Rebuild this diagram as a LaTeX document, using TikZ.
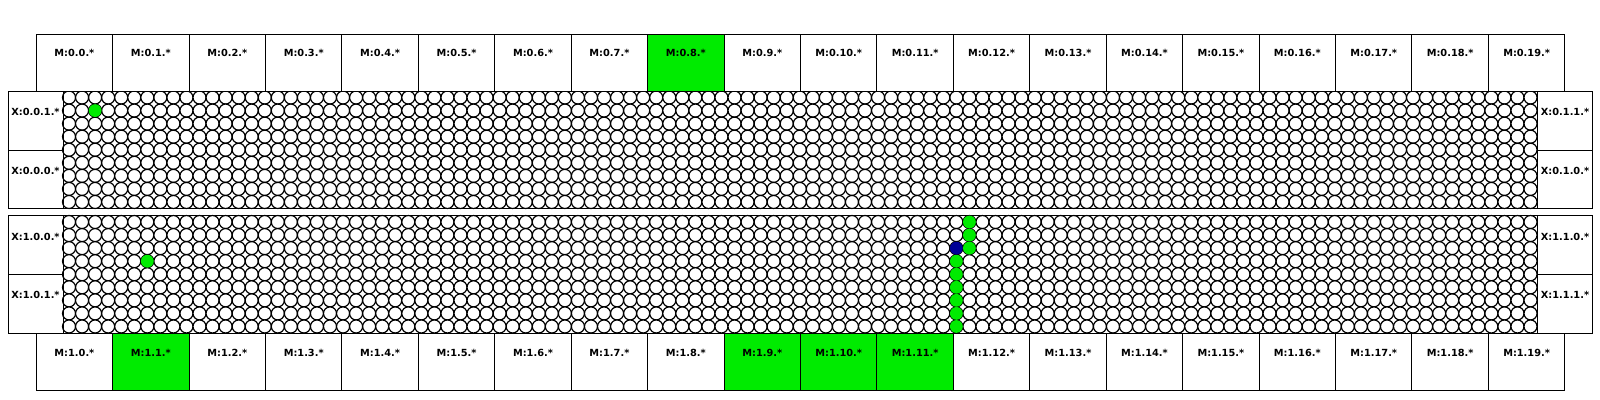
\documentclass[tikz,border=0pt]{standalone}
\usepackage{fontspec}
\setmainfont{DejaVu Sans}
\usetikzlibrary{positioning}
\definecolor{hitgreen}{RGB}{0,235,0}
\definecolor{hitblue}{RGB}{0,0,150}

\begin{document}
\begin{tikzpicture}[x=0.5pt,y=-0.5pt,
            mbox/.style={draw,line width=0.5pt,rectangle,anchor=north west,inner sep=0pt,minimum width=38.215pt,minimum height=28.35pt},
            xbox/.style={draw,line width=0.5pt,rectangle,anchor=north west,inner sep=0pt,minimum width=27.5pt,minimum height=29.375pt},
            frame/.style={draw,line width=0.5pt,rectangle,anchor=north west,inner sep=0pt,minimum width=737.25pt,minimum height=58.75pt},
            lbl/.style={font=\bfseries\fontsize{4.9}{5}\selectfont,inner sep=0pt},
            cell/.style={draw,line width=0.6pt,fill=white},
            hit/.style={fill=hitgreen},
        ]

        \def\cw{13.049}
        \def\ch{13.056}
        \useasboundingbox (0,0) rectangle (1600,400);

        % grid frames
        \node[frame] (grid0) at (62.5,91) {};
        \node[frame] (grid1) at (62.5,215.5) {};

        % cells
        \foreach \y in {91,215.5} {
            \foreach \i in {0,...,112} {
                \foreach \j in {0,...,8} {
                    \draw[cell] (62.5+\cw*\i+\cw/2, \y+\ch*\j+\ch/2) circle[radius=3.26pt];
                }
            }
        }

        % hits
        \fill[hit] (62.5+\cw*2+\cw/2, 91+\ch*1+\ch/2) circle[radius=3.2pt];
        \foreach \c/\r in {6/3,69/0,69/1,69/2,68/3,68/4,68/5,68/6,68/7,68/8} {
            \fill[hit] (62.5+\cw*\c+\cw/2, 215.5+\ch*\r+\ch/2) circle[radius=3.2pt];
        }
        \fill[hitblue] (62.5+\cw*68+\cw/2, 215.5+\ch*2+\ch/2) circle[radius=3.2pt];

        % X boxes
        \node[xbox] (x001) at (7.5,91) {};
        \node[xbox] (x000) at (7.5,149.75) {};
        \node[xbox] (x011) at (1537,91) {};
        \node[xbox] (x010) at (1537,149.75) {};
        \node[xbox] (x100) at (7.5,215.5) {};
        \node[xbox] (x101) at (7.5,274.25) {};
        \node[xbox] (x110) at (1537,215.5) {};
        \node[xbox] (x111) at (1537,274.25) {};
        \foreach \n/\t in {x001/X:0.0.1.*,x000/X:0.0.0.*,x011/X:0.1.1.*,x010/X:0.1.0.*,x100/X:1.0.0.*,x101/X:1.0.1.*,x110/X:1.1.0.*,x111/X:1.1.1.*} {
            \node[lbl] (l\n) at ([yshift=-10.5pt]\n.north) {\t};
        }

        % M boxes
        \foreach \i in {0,...,19} {
            \def\fc{white}
            \ifnum\i=8 \def\fc{hitgreen}\fi
            \node[mbox,fill=\fc] (m0-\i) at (35.7+76.43*\i,34.3) {};
            \node[lbl] (lm0-\i) at ([yshift=-9.2pt]m0-\i.north) {M:0.\i.*};
        }
        \foreach \i in {0,...,19} {
            \def\fc{white}
            \ifnum\i=1 \def\fc{hitgreen}\fi
            \ifnum\i>8 \ifnum\i<12 \def\fc{hitgreen}\fi\fi
            \node[mbox,fill=\fc] (m1-\i) at (35.7+76.43*\i,333) {};
            \node[lbl] (lm1-\i) at ([yshift=-10pt]m1-\i.north) {M:1.\i.*};
        }

    \end{tikzpicture}
\end{document}
